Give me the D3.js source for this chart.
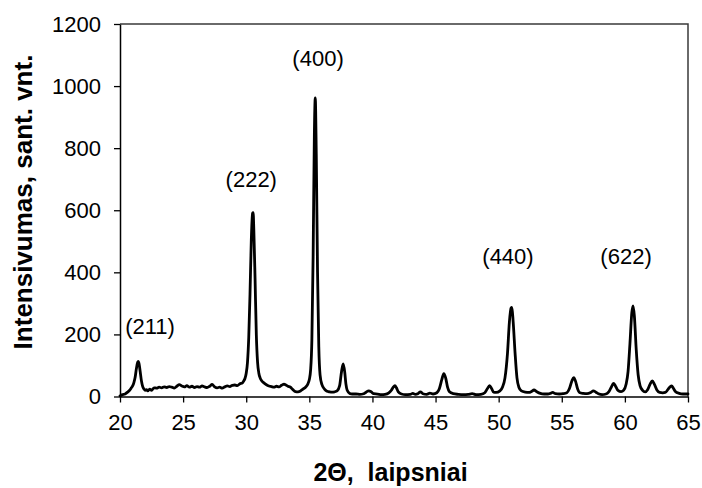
<!DOCTYPE html>
<html>
<head>
<meta charset="utf-8">
<script src="https://cdn.jsdelivr.net/npm/d3@7"></script>
<style>
  body { margin: 0; background: #fff; }
  svg { display: block; }
  text { font-family: Arial, "Liberation Sans", "Helvetica", sans-serif; fill: #000; }
</style>
</head>
<body>
<svg id="chart" width="702" height="488"></svg>
<script>
// Diffraction angle 2θ (degrees) and measured intensity (arb. units)
const twoTheta = [
  20.0, 20.2, 20.4, 20.6, 20.8, 20.9, 21.0, 21.1, 21.2, 21.3, 21.4, 21.45, 21.5, 21.6, 21.7, 21.8, 21.9,
  22.0, 22.1, 22.2, 22.35, 22.5, 22.7, 22.9, 23.1, 23.3, 23.5, 23.7, 23.9, 24.1, 24.3, 24.5, 24.7, 24.9,
  25.1, 25.3, 25.5, 25.7, 25.9, 26.1, 26.3, 26.5, 26.7, 26.9, 27.1, 27.3, 27.5, 27.7, 27.9, 28.1, 28.3,
  28.5, 28.7, 28.9, 29.1, 29.3, 29.5, 29.7, 29.8, 29.9, 30.0, 30.1, 30.2, 30.3, 30.4, 30.5, 30.55, 30.6,
  30.7, 30.8, 30.9, 31.0, 31.1, 31.2, 31.4, 31.6, 31.8, 32.0, 32.2, 32.4, 32.6, 32.8, 33.0, 33.1, 33.3,
  33.5, 33.7, 33.9, 34.1, 34.3, 34.5, 34.7, 34.9, 35.0, 35.1, 35.2, 35.3, 35.4, 35.47, 35.55, 35.65,
  35.75, 35.85, 36.0, 36.2, 36.4, 36.6, 36.8, 37.0, 37.2, 37.4, 37.55, 37.68, 37.8, 37.9, 38.0, 38.2,
  38.4, 38.7, 39.0, 39.3, 39.5, 39.7, 39.9, 40.1, 40.4, 40.7, 41.0, 41.3, 41.5, 41.65, 41.78, 41.9,
  42.05, 42.3, 42.6, 43.0, 43.2, 43.4, 43.6, 43.8, 44.0, 44.3, 44.55, 44.8, 45.1, 45.3, 45.5, 45.65,
  45.8, 45.95, 46.1, 46.4, 46.8, 47.2, 47.6, 47.9, 48.2, 48.6, 48.9, 49.1, 49.28, 49.45, 49.6, 49.8,
  50.1, 50.3, 50.5, 50.7, 50.85, 50.98, 51.05, 51.15, 51.3, 51.45, 51.6, 51.8, 52.1, 52.4, 52.6, 52.8,
  53.0, 53.3, 53.6, 53.9, 54.1, 54.28, 54.5, 54.8, 55.1, 55.4, 55.6, 55.8, 55.95, 56.1, 56.25, 56.4,
  56.7, 57.0, 57.3, 57.5, 57.7, 57.9, 58.2, 58.5, 58.7, 58.9, 59.1, 59.25, 59.45, 59.7, 59.9, 60.1,
  60.25, 60.4, 60.55, 60.65, 60.75, 60.9, 61.05, 61.2, 61.4, 61.6, 61.8, 62.0, 62.17, 62.35, 62.55,
  62.75, 63.0, 63.2, 63.4, 63.6, 63.7, 63.85, 64.0, 64.3, 64.6, 65.0
];
const intensity = [
  2, 6, 8, 14, 22, 28, 34, 45, 62, 90, 110, 113, 108, 80, 50, 32, 24,
  20, 22, 18, 24, 20, 28, 27, 30, 28, 31, 29, 32, 30, 27, 33, 38, 34,
  31, 35, 30, 33, 29, 32, 30, 34, 31, 29, 33, 39, 31, 28, 30, 27, 31,
  34, 32, 36, 37, 35, 41, 44, 50, 58, 75, 110, 190, 330, 500, 590, 592, 540,
  380, 200, 110, 75, 60, 52, 44, 38, 34, 32, 30, 33, 31, 36, 40, 38, 33,
  30, 22, 16, 15, 18, 24, 30, 42, 55, 85, 180, 450, 850, 962, 780, 400,
  160, 70, 38, 24, 17, 15, 14, 15, 18, 35, 80, 105, 80, 40, 20, 10,
  8, 8, 7, 9, 14, 18, 15, 9, 8, 6, 7, 12, 20, 30, 35, 28,
  15, 8, 6, 7, 10, 7, 9, 15, 9, 7, 11, 8, 12, 25, 55, 74,
  60, 30, 15, 9, 7, 6, 7, 9, 6, 7, 12, 25, 35, 25, 14, 13,
  18, 30, 60, 140, 240, 285, 287, 240, 140, 60, 30, 18, 14, 13, 16, 21,
  16, 10, 8, 8, 10, 13, 9, 8, 9, 12, 25, 50, 61, 48, 25, 13,
  10, 9, 13, 18, 14, 9, 6, 8, 14, 28, 42, 34, 20, 16, 20, 40,
  80, 170, 270, 292, 260, 150, 70, 35, 20, 15, 22, 40, 50, 38, 20,
  13, 12, 13, 22, 32, 34, 26, 16, 10, 8, 8
];

const xTicks = [20, 25, 30, 35, 40, 45, 50, 55, 60, 65];
const yTicks = [0, 200, 400, 600, 800, 1000, 1200];

// Miller-index annotations, placed in data units (2θ, intensity)
const reflexLabels = ["(211)", "(222)", "(400)", "(440)", "(622)"];
const reflexLabelAngles = [22.38, 30.40, 35.69, 50.74, 60.09];
const reflexLabelLevels = [201, 675, 1066, 427, 427];

const xTitle = "2\u0398,  laipsniai";
const yTitle = "Intensivumas, sant. vnt.";

const width = 702, height = 488;
const margin = { top: 24, right: 14, bottom: 91.5, left: 120 };
const innerW = width - margin.left - margin.right;
const innerH = height - margin.top - margin.bottom;

const svg = d3.select("#chart");
svg.append("rect").attr("width", width).attr("height", height).attr("fill", "#fff");

const g = svg.append("g").attr("transform", `translate(${margin.left},${margin.top})`);

const x = d3.scaleLinear().domain([20, 65]).range([0, innerW]);
const y = d3.scaleLinear().domain([0, 1200]).range([innerH, 0]);

// Plot-area border (top and right sides)
g.append("path")
  .attr("d", `M0,0H${innerW}V${innerH}`)
  .attr("fill", "none")
  .attr("stroke", "#3a3a3a")
  .attr("stroke-width", 1.5);

// Diffraction pattern
const points = twoTheta.map((t, i) => [t, intensity[i]]);
const line = d3.line().x(d => x(d[0])).y(d => y(d[1])).curve(d3.curveMonotoneX);

g.append("path")
  .datum(points)
  .attr("d", line)
  .attr("fill", "none")
  .attr("stroke", "#000")
  .attr("stroke-width", 2.8)
  .attr("stroke-linejoin", "round")
  .attr("stroke-linecap", "round");

// Axes
const xAxis = d3.axisBottom(x).tickValues(xTicks).tickFormat(d3.format("d"))
  .tickSize(6).tickSizeOuter(0).tickPadding(12);
const yAxis = d3.axisLeft(y).tickValues(yTicks).tickFormat(d3.format("d"))
  .tickSize(6).tickSizeOuter(0).tickPadding(13);

const gx = g.append("g").attr("transform", `translate(0,${innerH})`).call(xAxis);
const gy = g.append("g").call(yAxis);

[gx, gy].forEach(a => {
  a.select(".domain").attr("stroke", "#000").attr("stroke-width", 1.5);
  a.selectAll(".tick line").attr("stroke", "#000").attr("stroke-width", 1.3);
  a.selectAll(".tick text")
    .attr("font-family", "Arial, 'Liberation Sans', sans-serif")
    .attr("font-size", 22)
    .attr("fill", "#000");
});

// Reflection labels
g.selectAll("text.hkl")
  .data(reflexLabels)
  .join("text")
  .attr("class", "hkl")
  .attr("x", (d, i) => x(reflexLabelAngles[i]))
  .attr("y", (d, i) => y(reflexLabelLevels[i]))
  .attr("text-anchor", "middle")
  .attr("font-size", 22)
  .text(d => d);

// Axis titles
svg.append("text")
  .attr("x", 390.5)
  .attr("y", 481)
  .attr("text-anchor", "middle")
  .attr("font-size", 25)
  .attr("font-weight", "bold")
  .style("white-space", "pre")
  .text(xTitle);

svg.append("text")
  .attr("transform", "translate(31.5,202) rotate(-90)")
  .attr("text-anchor", "middle")
  .attr("font-size", 26)
  .attr("font-weight", "bold")
  .text(yTitle);
</script>
</body>
</html>
